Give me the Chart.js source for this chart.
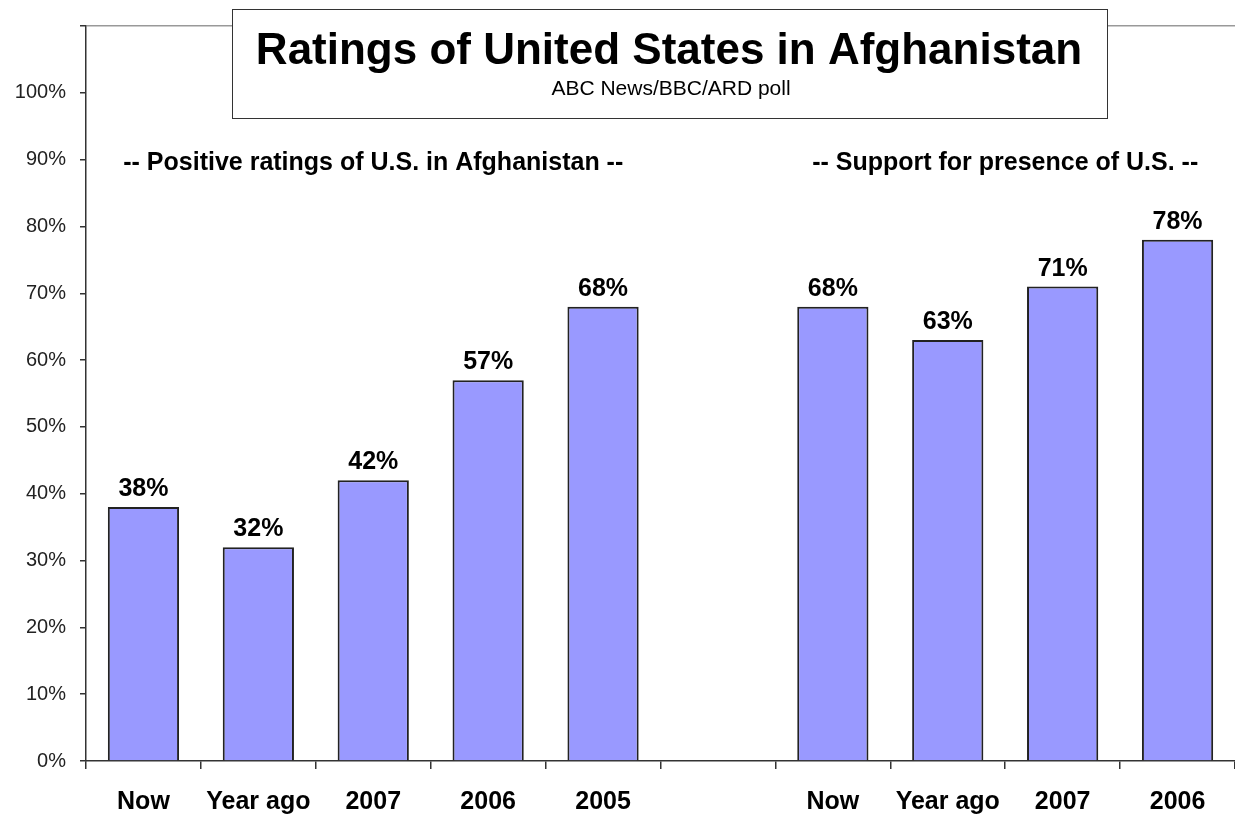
<!DOCTYPE html>
<html><head><meta charset="utf-8">
<script src="https://cdn.jsdelivr.net/npm/chart.js@4/dist/chart.umd.min.js"></script>
<style>html,body{margin:0;padding:0;background:#fff}#wrap{width:1235px;height:814px;position:relative}</style>
</head><body><div id="wrap"><canvas id="c"></canvas></div>
<script>
const categories = ["Now", "Year ago", "2007", "2006", "2005", "", "Now", "Year ago", "2007", "2006"];
const values = [38, 32, 42, 57, 68, null, 68, 63, 71, 78];
const yTickValues = [0, 10, 20, 30, 40, 50, 60, 70, 80, 90, 100];
const chartTitle = "Ratings of United States in Afghanistan";
const chartSubtitle = "ABC News/BBC/ARD poll";
const groupLabels = ["-- Positive ratings of U.S. in Afghanistan --", "-- Support for presence of U.S. --"];
const groupRanges = [[0, 4], [6, 9]];
const groupLabelLevel = 89.5;

const FONT = "'Liberation Sans', Arial, sans-serif";

const overlay = {
  id: 'overlay',
  afterDatasetsDraw(chart) {
    const ctx = chart.ctx;
    const meta = chart.getDatasetMeta(0);
    const x = chart.scales.x, y = chart.scales.y;
    ctx.save();
    ctx.fillStyle = '#000';
    ctx.font = 'bold 25px ' + FONT;
    ctx.textAlign = 'center';
    ctx.textBaseline = 'alphabetic';
    meta.data.forEach((bar, i) => {
      const v = values[i];
      if (v === null) return;
      ctx.fillText(v + '%', bar.x, bar.y - 11);
    });
    ctx.textBaseline = 'middle';
    groupLabels.forEach((t, g) => {
      const [a, b] = groupRanges[g];
      const cx = (x.getPixelForValue(a) + x.getPixelForValue(b)) / 2;
      ctx.fillText(t, cx, y.getPixelForValue(groupLabelLevel));
    });
    ctx.fillStyle = '#fff';
    ctx.fillRect(232, 9, 875, 109);
    ctx.strokeStyle = '#333';
    ctx.lineWidth = 1;
    ctx.strokeRect(232.5, 9.5, 875, 109);
    ctx.fillStyle = '#000';
    ctx.font = 'bold 44px ' + FONT;
    ctx.fillText(chartTitle, 669, 52);
    ctx.font = '21px ' + FONT;
    ctx.fillText(chartSubtitle, 671, 89);
    ctx.restore();
  }
};

new Chart(document.getElementById('c'), {
  type: 'bar',
  data: {
    labels: categories,
    datasets: [{
      data: values,
      backgroundColor: '#9999FF',
      borderColor: '#222222',
      borderWidth: 2,
      barPercentage: 0.62,
      categoryPercentage: 1.0
    }]
  },
  options: {
    responsive: true,
    maintainAspectRatio: false,
    animation: false,
    layout: { padding: { top: 25, right: 0, left: 0, bottom: 0 } },
    plugins: { legend: { display: false }, tooltip: { enabled: false }, title: { display: false } },
    scales: {
      x: {
        offset: true,
        grid: { offset: true, drawOnChartArea: false, drawTicks: true, tickLength: 8, tickColor: '#333', lineWidth: 1.5 },
        border: { display: true, color: '#333', width: 1.5 },
        ticks: { color: '#000', font: { family: FONT, size: 25, weight: 'bold' }, padding: 18, maxRotation: 0, autoSkip: false },
        afterFit(s) { s.height = 53; }
      },
      y: {
        min: 0, max: 110,
        afterBuildTicks(s) { s.ticks = yTickValues.concat([110]).map(v => ({ value: v })); },
        grid: {
          drawOnChartArea: true,
          color: (c) => (c.tick && c.tick.value === 110) ? '#999' : 'rgba(0,0,0,0)',
          drawTicks: true, tickLength: 6, tickColor: '#333', lineWidth: 1.5
        },
        border: { display: true, color: '#333', width: 1.5 },
        ticks: {
          color: '#222', font: { family: FONT, size: 20 }, padding: 14,
          callback: (v) => yTickValues.includes(v) ? v + '%' : ''
        },
        afterFit(s) { s.width = 86; }
      }
    }
  },
  plugins: [overlay]
});
</script>
</body></html>
